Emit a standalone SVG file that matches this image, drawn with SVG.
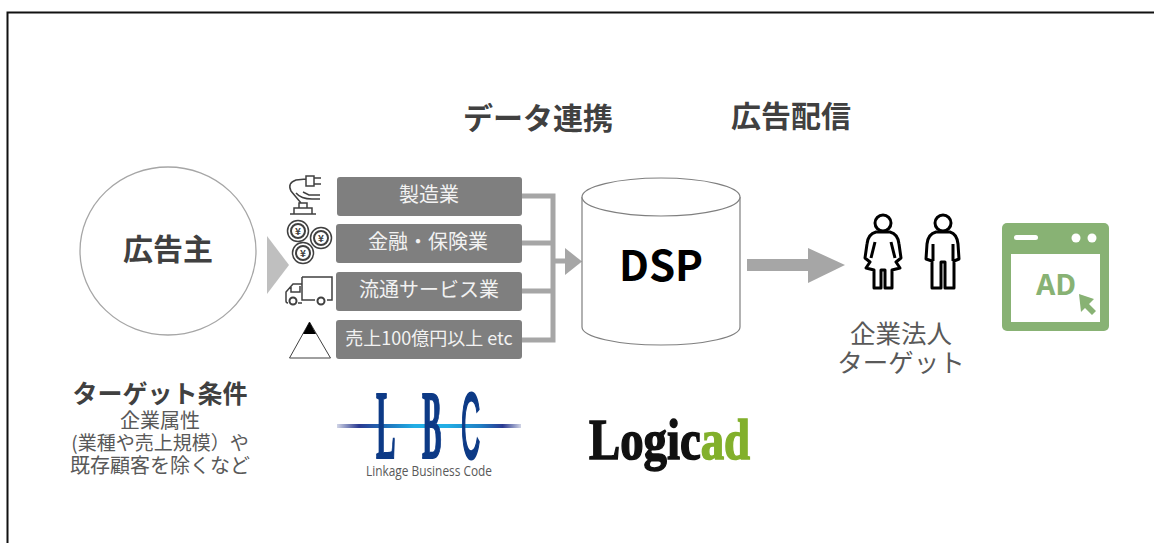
<svg xmlns="http://www.w3.org/2000/svg" width="1154" height="543" viewBox="0 0 1154 543">
<defs>
<linearGradient id="lbcLine" x1="0" x2="1" y1="0" y2="0">
<stop offset="0" stop-color="#1d2f86" stop-opacity="0.2"/><stop offset="0.12" stop-color="#2a3a92"/><stop offset="0.3" stop-color="#1f7fc4"/><stop offset="0.42" stop-color="#22aee5"/><stop offset="0.6" stop-color="#22aee5"/><stop offset="0.78" stop-color="#1f7fc4"/><stop offset="0.9" stop-color="#2a3a92"/><stop offset="1" stop-color="#1d2f86" stop-opacity="0.2"/>
</linearGradient>
</defs>
<style>
text{font-family:"Noto Sans CJK JP","Noto Sans",sans-serif}
.h{font-size:30px;font-weight:700;fill:#404040;text-anchor:middle}
.b{fill:#7f7f7f}
.bt{font-size:20px;fill:#f2f2f2;text-anchor:middle}
.g{font-size:20px;fill:#595959;text-anchor:middle}
.t{font-size:25.500px;fill:#595959;text-anchor:middle}
.c{fill:none;stroke:#a6a6a6;stroke-width:5}
.i{fill:none;stroke:#404040;stroke-width:1.500}
.p{fill:none;stroke:#000;stroke-width:3;stroke-linejoin:round}
.lb{font-family:"Liberation Serif",serif;font-size:98px;font-weight:700;fill:#0d3a86;stroke:#0d3a86;stroke-width:2}
.lc{font-family:"Liberation Sans",sans-serif;font-size:92px;fill:#0d3a86;stroke:#0d3a86;stroke-width:3}
.lg{font-family:"Liberation Serif",serif;font-size:56px;font-weight:700;fill:#111;stroke:#111;stroke-width:1.500}
</style>
<rect width="1154" height="543" fill="#fff"/>
<path d="M1154 12.500H7.500V543" fill="none" stroke="#111" stroke-width="2"/>
<text class="h" x="538" y="129">データ連携</text>
<text class="h" x="791" y="127">広告配信</text>
<g id="advertiser">
<ellipse cx="168" cy="251" rx="88" ry="84" fill="#fff" stroke="#a6a6a6" stroke-width="1.300"/>
<text x="168" y="260" font-size="30" font-weight="700" fill="#404040" text-anchor="middle">広告主</text>
</g>
<g id="condition">
<text x="160" y="403" font-size="25" font-weight="700" fill="#404040" text-anchor="middle">ターゲット条件</text>
<text class="g" y="428"><tspan x="160">企業属性</tspan><tspan x="160" y="450" style="font-size:19px">(業種や売上規模）や</tspan><tspan x="160" y="473">既存顧客を除くなど</tspan></text>
</g>
<polygon id="chevron" points="267,236 289,265 267,294" fill="#bfbfbf"/>
<g id="connectors">
<path class="c" d="M522 196H553V340H522M522 243H553M522 291H553M553 261H566"/>
<polygon points="565,248 582,261.500 565,275" fill="#a6a6a6"/>
<rect x="747" y="259" width="62" height="12" fill="#a6a6a6"/>
<polygon points="808,248 845,265 808,283" fill="#a6a6a6"/>
</g>
<g id="icon-robot" class="i">
<path d="M290 214H316M294 214V208H312V214M299 208V203H307V208M301 203L291 191Q287 183 296 180L306 179M296 193Q301 199 312 199H320M303 192L309 195H320M306 176H314V186H306ZM314 178H321M314 184H321"/>
</g>
<g id="icon-coins" class="i">
<circle cx="298" cy="231" r="10.500"/><circle cx="298" cy="231" r="7" stroke-width="2"/>
<circle cx="321" cy="238" r="10.500"/><circle cx="321" cy="238" r="7" stroke-width="2"/>
<circle cx="303" cy="253" r="10.500"/><circle cx="303" cy="253" r="7" stroke-width="2"/>
<text x="298" y="235" font-size="10" font-weight="700" fill="#404040" stroke="none" text-anchor="middle">¥</text>
<text x="321" y="242" font-size="10" font-weight="700" fill="#404040" stroke="none" text-anchor="middle">¥</text>
<text x="303" y="257" font-size="10" font-weight="700" fill="#404040" stroke="none" text-anchor="middle">¥</text>
</g>
<g id="icon-truck" class="i">
<path d="M302 277H332V300H327M315 300H302V277M302 284H293L286 292V301Q286 303 288 303M298 303H302M291 286V292H300V286"/>
<circle cx="293" cy="301" r="3.500" stroke-width="2"/><circle cx="321" cy="301" r="3.500" stroke-width="2"/>
</g>
<g id="icon-mountain">
<polygon points="309.500,322 330.500,358 289.500,358" fill="#fff" stroke="#404040" stroke-width="1"/>
<polygon points="309.500,322 316,334 303,334" fill="#000"/>
</g>
<g id="box1"><rect class="b" x="337" y="177" width="185" height="39" rx="3"/><text class="bt" x="429" y="202">製造業</text></g>
<g id="box2"><rect class="b" x="336" y="224" width="186" height="39" rx="3"/><text class="bt" x="428" y="249">金融・保険業</text></g>
<g id="box3"><rect class="b" x="336" y="272" width="186" height="39" rx="3"/><text class="bt" x="429" y="297">流通サービス業</text></g>
<g id="box4"><rect class="b" x="336" y="320" width="186" height="39" rx="3"/><text class="bt" x="429" y="345" style="font-size:18px">売上100億円以上 etc</text></g>
<g id="dsp">
<path d="M582 197V327C582 337 617 345 661 345S740 337 740 327V197" fill="#fff" stroke="#7f7f7f" stroke-width="1.200"/>
<ellipse cx="661" cy="197" rx="79" ry="19" fill="#fff" stroke="#7f7f7f" stroke-width="1.200"/>
<text x="661" y="281" font-size="42" font-weight="700" fill="#000" text-anchor="middle">DSP</text>
</g>
<g id="target">
<circle class="p" cx="883" cy="223" r="8"/>
<path class="p" d="M876 232Q868 234 867 244L865 258L870 262L866 268L874 270V288H881V270H885V288H892V270L900 268L896 262L901 258L899 244Q898 234 890 232ZM875 242L871 258M891 242L895 258"/>
<circle class="p" cx="943" cy="223" r="8"/>
<path class="p" d="M936 232Q928 234 927 244L926 259L932 261V288H941V262H945V288H954V261L959 259L958 244Q957 234 950 232ZM933 244V261M953 244V261"/>
<text class="t" y="343"><tspan x="901">企業法人</tspan><tspan x="901" y="372">ターゲット</tspan></text>
</g>
<g id="ad-window">
<rect x="1002" y="223" width="107" height="108" rx="5" fill="#88b274"/>
<rect x="1011" y="254" width="89" height="68" fill="#fff"/>
<rect x="1014" y="235" width="24" height="5" rx="2.500" fill="#fff"/>
<circle cx="1076" cy="238" r="4.500" fill="#fff"/><circle cx="1092" cy="238" r="4.500" fill="#fff"/>
<text x="1056" y="295" font-size="28" font-weight="700" fill="#88b274" text-anchor="middle" style="font-family:'Noto Sans',sans-serif">AD</text>
<path d="M1079 294L1094 299L1089 304L1096 311L1092 315L1085 308L1081 312Z" fill="#88b274"/>
</g>
<g id="lbc-logo">
<rect x="337" y="424" width="184" height="4" fill="url(#lbcLine)"/>
<text class="lb" transform="translate(376 458) scale(0.3 1)">L</text>
<text class="lb" transform="translate(422 458) scale(0.3 1)">B</text>
<text class="lc" transform="translate(461 458) scale(0.29 1)">C</text>
<text x="429" y="476" font-size="15" fill="#595959" text-anchor="middle" style="font-family:'Open Sans',sans-serif" textLength="126" lengthAdjust="spacingAndGlyphs">Linkage Business Code</text>
</g>
<g id="logicad-logo">
<text class="lg" x="589" y="459" textLength="161" lengthAdjust="spacingAndGlyphs">Logic<tspan style="fill:#82b02c;stroke:#82b02c">ad</tspan></text>
</g>
</svg>
